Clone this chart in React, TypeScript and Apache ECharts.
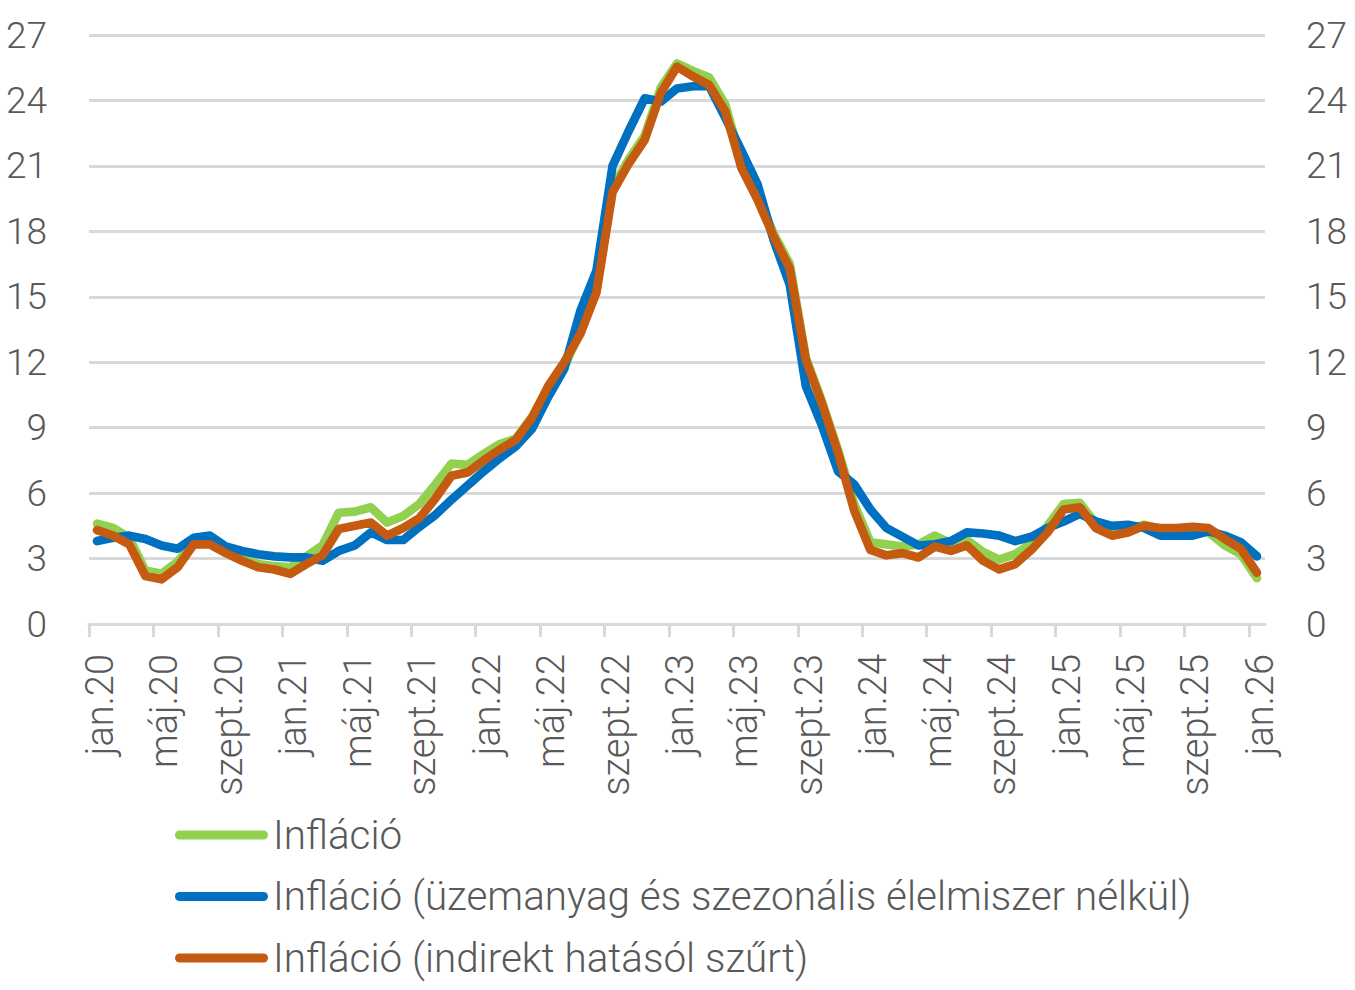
import React, { useEffect, useRef } from "react";
import * as echarts from "echarts";

// Monthly labels, January 2020 – January 2026
const MONTH_NAMES = ["jan", "febr", "márc", "ápr", "máj", "jún", "júl", "aug", "szept", "okt", "nov", "dec"];
const MONTHS: string[] = Array.from({ length: 73 }, (_, i) => `${MONTH_NAMES[i % 12]}.${20 + Math.floor(i / 12)}`);
// every fourth month gets a tick and a label
const TICK_MONTHS: number[] = MONTHS.map((_, i) => i).filter((i) => i % 4 === 0);

const SERIES_NAMES = [
  "Infláció",
  "Infláció (üzemanyag és szezonális élelmiszer nélkül)",
  "Infláció (indirekt hatásól szűrt)",
];

// Headline CPI, % y/y
const inflacio = [
  4.6, 4.4, 3.95, 2.45, 2.3, 2.85, 3.75, 3.8, 3.35, 3.0, 2.75, 2.65,
  2.6, 3.1, 3.6, 5.1, 5.15, 5.35, 4.65, 4.95, 5.5, 6.4, 7.35, 7.3,
  7.8, 8.25, 8.5, 9.5, 10.8, 11.8, 13.4, 15.3, 20.0, 21.3, 22.4, 24.6,
  25.7, 25.35, 25.05, 23.8, 21.2, 19.6, 17.9, 16.5, 12.2, 10.2, 7.95, 5.5,
  3.75, 3.65, 3.55, 3.65, 4.05, 3.7, 3.85, 3.3, 2.95, 3.2, 3.7, 4.5,
  5.5, 5.55, 4.6, 4.2, 4.35, 4.55, 4.35, 4.35, 4.4, 4.2, 3.6, 3.2,
  2.1,
];

// Excluding fuel and seasonal food
const uzemanyagNelkul = [
  3.8, 3.95, 4.05, 3.9, 3.6, 3.45, 3.95, 4.05, 3.55, 3.35, 3.2, 3.1,
  3.05, 3.05, 2.9, 3.35, 3.6, 4.2, 3.85, 3.85, 4.45, 5.0, 5.7, 6.35,
  7.0, 7.6, 8.15, 8.95, 10.4, 11.7, 14.35, 16.2, 21.0, 22.6, 24.1, 23.95,
  24.55, 24.65, 24.65, 23.2, 21.7, 20.15, 17.6, 15.55, 10.9, 9.1, 7.0, 6.4,
  5.25, 4.4, 4.0, 3.6, 3.65, 3.8, 4.2, 4.15, 4.05, 3.8, 4.0, 4.4,
  4.7, 5.05, 4.7, 4.5, 4.55, 4.4, 4.05, 4.05, 4.05, 4.25, 4.05, 3.75,
  3.1,
];

// Filtered for indirect tax effects
const indirektSzurt = [
  4.3, 4.05, 3.65, 2.2, 2.05, 2.6, 3.65, 3.65, 3.25, 2.9, 2.6, 2.5,
  2.3, 2.75, 3.15, 4.35, 4.5, 4.65, 4.05, 4.4, 4.85, 5.75, 6.8, 6.95,
  7.5, 8.0, 8.45, 9.45, 10.9, 12.0, 13.3, 15.2, 19.8, 21.1, 22.2, 24.35,
  25.55, 25.1, 24.7, 23.5, 20.9, 19.45, 17.75, 16.3, 12.1, 10.1, 7.85, 5.2,
  3.4, 3.15, 3.25, 3.05, 3.55, 3.35, 3.6, 2.9, 2.5, 2.75, 3.4, 4.2,
  5.25, 5.35, 4.4, 4.05, 4.2, 4.5, 4.4, 4.4, 4.45, 4.4, 3.9, 3.45,
  2.35,
];

const COLORS = ["#92D050", "#0070C0", "#C55A11"];
const TEXT_COLOR = "#595959";
const GRID_COLOR = "#D9D9D9";
const FONT = "Roboto";
const PILL = "path://M4.5 0H88.5A4.5 4.5 0 0 1 88.5 9H4.5A4.5 4.5 0 0 1 4.5 0Z";

// each month is plotted in the middle of its slot on the time axis
const toPoints = (values: number[]) => values.map((v, i) => [i + 0.5, v]);

export default function App() {
  const ref = useRef<HTMLDivElement>(null);

  useEffect(() => {
    if (!ref.current) return;
    const chart = echarts.init(ref.current, undefined, { renderer: "svg" });

    const yLabel = {
      color: TEXT_COLOR,
      fontFamily: FONT,
      fontWeight: 300 as any,
      fontSize: 37,
    };

    const lineSeries = [inflacio, uzemanyagNelkul, indirektSzurt].map((values, k) => ({
      name: SERIES_NAMES[k],
      type: "line" as const,
      data: toPoints(values),
      showSymbol: false,
      symbol: "none",
      color: COLORS[k],
      lineStyle: { width: 8.7, color: COLORS[k], cap: "round" as const, join: "round" as const },
      emphasis: { disabled: true },
      z: 2 + k,
    }));

    chart.setOption({
      animation: false,
      backgroundColor: "#ffffff",
      grid: { left: 89, right: 90, top: 35, bottom: 366, containLabel: false },
      xAxis: {
        type: "value",
        min: 0,
        max: MONTHS.length,
        splitLine: { show: false },
        axisLine: { show: true, lineStyle: { color: GRID_COLOR, width: 3 } },
        axisTick: {
          show: true,
          customValues: TICK_MONTHS,
          length: 13,
          lineStyle: { color: GRID_COLOR, width: 3 },
        },
        axisLabel: {
          customValues: TICK_MONTHS,
          formatter: (v: number) => MONTHS[Math.round(v)] ?? "",
          rotate: 90,
          margin: 30,
          verticalAlign: "top",
          lineHeight: 22,
          color: TEXT_COLOR,
          fontFamily: FONT,
          fontWeight: 300,
          fontSize: 38,
        },
      },
      yAxis: [
        {
          type: "value",
          min: 0,
          max: 27,
          interval: 3,
          position: "left",
          axisLine: { show: false },
          axisTick: { show: false },
          splitLine: { show: true, lineStyle: { color: GRID_COLOR, width: 3 } },
          axisLabel: { ...yLabel, margin: 42 },
        },
        {
          type: "value",
          min: 0,
          max: 27,
          interval: 3,
          position: "right",
          axisLine: { show: false },
          axisTick: { show: false },
          splitLine: { show: false },
          axisLabel: { ...yLabel, margin: 41 },
        },
      ],
      legend: {
        orient: "vertical",
        left: 175,
        top: 814,
        padding: 0,
        itemWidth: 93,
        itemHeight: 9,
        itemGap: 19.5,
        selectedMode: false,
        data: SERIES_NAMES.map((name) => ({ name, icon: PILL })),
        textStyle: {
          color: TEXT_COLOR,
          fontFamily: FONT,
          fontWeight: 300,
          fontSize: 40.4,
          lineHeight: 42,
        },
      },
      series: lineSeries,
    });

    return () => chart.dispose();
  }, []);

  return (
    <div
      ref={ref}
      style={{ position: "fixed", left: 0, top: 0, width: 1355, height: 990, background: "#fff" }}
    />
  );
}
